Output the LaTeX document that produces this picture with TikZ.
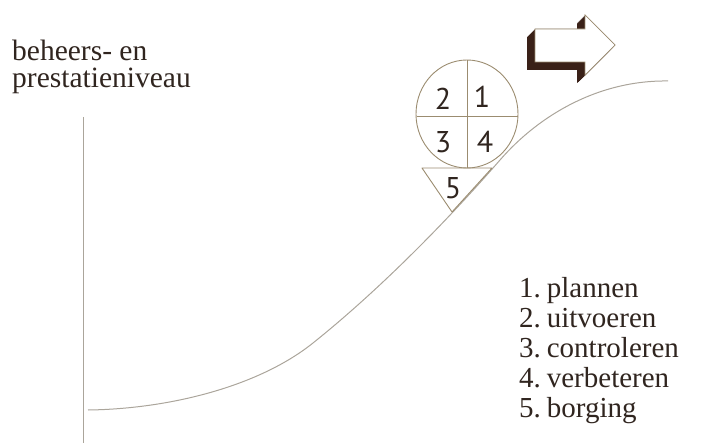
\documentclass[tikz,border=0pt]{standalone}
\usepackage{fontspec}
\usetikzlibrary{shapes.geometric}
\setmainfont{Liberation Serif}
\newfontfamily\numfont{PT Sans}
\newcommand\mylistfont{\fontsize{29}{30}\selectfont\spaceskip 0.12em\relax}
\definecolor{txt}{HTML}{30251F}
\definecolor{linec}{HTML}{9B8C70}
\definecolor{curvec}{HTML}{ABA59B}
\definecolor{shadowc}{HTML}{3A2118}
\begin{document}
\begin{tikzpicture}[x=1pt,y=-1pt,
  lbl/.style={text=txt,font=\fontsize{29.5}{29.5}\selectfont,inner sep=0pt,anchor=base west,align=left},
  listtxt/.style={text=txt,font=\mylistfont,inner sep=0pt,align=left},
  num/.style={text=txt,font=\numfont\fontsize{30}{30}\selectfont,inner sep=0pt},
  thinl/.style={draw=linec,line width=0.9pt}]
\useasboundingbox (0,0) rectangle (703,443);
% header text
\node[lbl] (h1) at (12,61) {beheers- en};
\node[lbl] (h2) at (12,88) {prestatieniveau};
% axis
\coordinate (axt) at (83,117);
\coordinate (axb) at (83,443);
\draw[curvec,line width=1pt] (axt) -- (axb);
% curve
\coordinate (k0) at (88,410);
\coordinate (k1) at (313,343);
\coordinate (k2) at (500,160);
\coordinate (k3) at (668,81);
\draw[curvec,line width=1pt] (k0) .. controls (168,409) and (258,387) .. (k1)
  .. controls (373,295) and (440,229) .. (k2)
  .. controls (540,114) and (600,80) .. (k3);
% circle
\node[thinl,ellipse,minimum width=102pt,minimum height=108pt,inner sep=0pt] (c) at (467,114) {};
\coordinate (hl) at (417,116);
\coordinate (hr) at (518,116);
\coordinate (vt) at (467,60);
\coordinate (vb) at (467,168);
\draw[thinl] (hl) -- (hr);
\draw[thinl] (vt) -- (vb);
% triangle
\coordinate (ta) at (422,168);
\coordinate (tb) at (492,168);
\coordinate (tc) at (452,212);
\draw[thinl,line join=round] (ta) -- (tb) -- (tc) -- cycle;
\node[num] (n2) at (443,99) {2};
\node[num] (n1) at (482,97) {1};
\node[num] (n3) at (443,142) {3};
\node[num] (n4) at (485,142) {4};
\node[num] (n5) at (453,188) {5};
% 3D arrow
\foreach \s in {0,0.5,...,8}{
  \fill[shadowc] ([shift={(-\s,\s)}]535,29) -- ++(50,0) -- ++(0,-14) -- ++(30,30) -- ++(-30,30) -- ++(0,-13) -- ++(-50,0) -- cycle;
}
\filldraw[fill=white,draw=linec,line width=0.7pt,line join=miter] (535,29) -- ++(50,0) -- ++(0,-14) -- ++(30,30) -- ++(-30,30) -- ++(0,-13) -- ++(-50,0) -- cycle;
% list
\node[listtxt,anchor=base west] (l1) at (519,297) {1. plannen};
\node[listtxt,anchor=base west] (l2) at (519,327) {2. uitvoeren};
\node[listtxt,anchor=base west] (l3) at (519,357) {3. controleren};
\node[listtxt,anchor=base west] (l4) at (519,387) {4. verbeteren};
\node[listtxt,anchor=base west] (l5) at (519,417) {5. borging};
\end{tikzpicture}
\end{document}
